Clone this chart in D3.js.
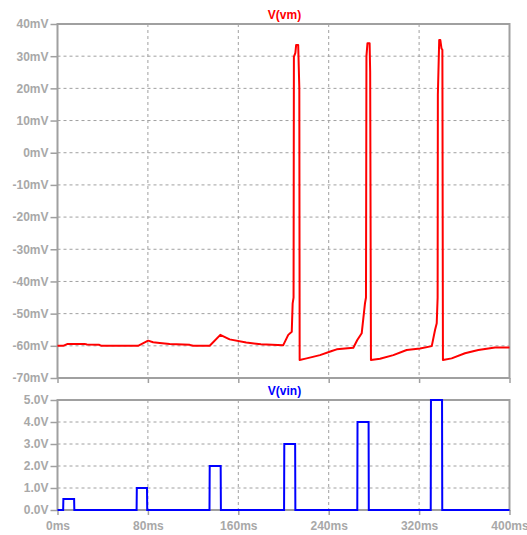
<!DOCTYPE html>
<html>
<head>
<meta charset="utf-8">
<script src="https://cdn.jsdelivr.net/npm/d3@7"></script>
<style>
  body { margin: 0; background: #fff; }
  text { font-family: "Liberation Sans", Arial, sans-serif; font-weight: bold; font-size: 12px; }
</style>
</head>
<body>
<div id="chart"></div>
<script>
// V(vm) membrane trace (ms, mV)
const vmTime = [0, 5, 9, 24, 26, 37, 39, 71.3, 80.2, 84.6, 90.5, 99.3, 117, 120,
  134.7, 144.1, 152.3, 167, 180, 199.8, 204.2, 207.3, 208.1, 208.9, 209.2, 210.5, 211.2, 213, 214, 214.3,
  220.5, 232.3, 242.7, 247.1, 261.8, 265.3, 269.2, 272.1, 273, 273.4, 274.3, 276.2, 276.7, 277.4,
  285.4, 297.2, 309, 320.8, 331.2, 334.1, 335.6, 336.4, 336.6, 337.8, 338.8, 339.8, 340.6, 341.1,
  348.8, 360.6, 372.4, 387.2, 400];
const vmValue = [-60, -60, -59.4, -59.4, -59.6, -59.7, -60, -60, -58.4, -58.9, -59.1, -59.4, -59.7, -60,
  -60, -56.6, -58.0, -59.0, -59.5, -59.8, -56.6, -55.6, -46.8, -45, 29.8, 31, 33.5, 33.5, 20, -64.4,
  -63.9, -62.9, -61.6, -61.1, -60.6, -58.2, -56.1, -46.8, -45, 30, 34, 34, 25, -64.4,
  -64.0, -62.9, -61.3, -60.8, -60.1, -55.1, -53.0, -45, 18, 35, 35, 32.4, 32, -64.4,
  -63.9, -62.3, -61.3, -60.5, -60.5];

// V(vin) stimulus pulses (ms, V)
const pulseStart = [5, 70, 134.5, 200.5, 265.3, 330.3];
const pulseEnd = [14.7, 79.2, 144.4, 210.3, 275.3, 340.3];
const pulseAmp = [0.5, 1, 2, 3, 4, 5];

const xTicks = [0, 80, 160, 240, 320, 400];
const vmTicks = [40, 30, 20, 10, 0, -10, -20, -30, -40, -50, -60, -70];
const vinTicks = [0, 1, 2, 3, 4, 5];

const width = 527, height = 535;
const left = 57.5, right = 509.5;
const gridColor = "#a0a0a0";
const labelColor = "#a8a8a8";

const svg = d3.select("#chart").append("svg")
  .attr("width", width)
  .attr("height", height);

const x = d3.scaleLinear().domain([0, 400]).range([left, right]);
const yVm = d3.scaleLinear().domain([-70, 40]).range([378, 24]);
const yVin = d3.scaleLinear().domain([0, 5]).range([510, 400]);

function panel(y, yTicks, fmt, title, color) {
  const [y0, y1] = y.range();
  const g = svg.append("g");

  // dashed grid
  g.selectAll(".hgrid").data(yTicks.filter(d => y(d) > y1 + 1 && y(d) < y0 - 1))
    .enter().append("line")
    .attr("x1", left).attr("x2", right)
    .attr("y1", d => y(d)).attr("y2", d => y(d))
    .attr("stroke", gridColor).attr("stroke-width", 1)
    .attr("stroke-dasharray", "3,3");
  g.selectAll(".vgrid").data(xTicks.slice(1, -1))
    .enter().append("line")
    .attr("x1", d => x(d)).attr("x2", d => x(d))
    .attr("y1", y1).attr("y2", y0)
    .attr("stroke", gridColor).attr("stroke-width", 1)
    .attr("stroke-dasharray", "3,3");

  // y axis ticks + labels
  const ay = g.append("g")
    .attr("transform", `translate(${left},0)`)
    .call(d3.axisLeft(y).tickValues(yTicks).tickFormat(fmt).tickSize(7).tickPadding(2));
  ay.select(".domain").remove();
  ay.selectAll("line").attr("stroke", gridColor).attr("stroke-width", 1.5);
  ay.selectAll("text").attr("fill", labelColor)
    .style("font-size", "12px").style("font-family", '"Liberation Sans", Arial, sans-serif');

  // x ticks
  const ax = g.append("g")
    .attr("transform", `translate(0,${y0})`)
    .call(d3.axisBottom(x).tickValues(xTicks).tickFormat(d => d + "ms").tickSize(5).tickPadding(6));
  ax.select(".domain").remove();
  ax.selectAll("line").attr("stroke", gridColor).attr("stroke-width", 1.5);
  ax.selectAll("text").attr("fill", labelColor)
    .style("font-size", "12px").style("font-family", '"Liberation Sans", Arial, sans-serif');

  // frame
  g.append("rect")
    .attr("x", left).attr("y", y1)
    .attr("width", right - left).attr("height", y0 - y1)
    .attr("fill", "none").attr("stroke", gridColor).attr("stroke-width", 2);

  // title
  svg.append("text")
    .attr("x", (left + right) / 2 + 1)
    .attr("y", y1 - 5)
    .attr("text-anchor", "middle")
    .attr("fill", color)
    .text(title);
  return { g, ax };
}

const vmPanel = panel(yVm, vmTicks, d => d + "mV", "V(vm)", "#ff0000");
vmPanel.ax.selectAll("text").remove();
panel(yVin, vinTicks, d => d3.format(".1f")(d) + "V", "V(vin)", "#0000ff");

// vm trace
const vmPts = vmTime.map((t, i) => [t, vmValue[i]]);
svg.append("path")
  .datum(vmPts)
  .attr("fill", "none")
  .attr("stroke", "#ff0000")
  .attr("stroke-width", 2)
  .attr("stroke-linejoin", "round")
  .attr("d", d3.line().x(d => x(d[0])).y(d => yVm(d[1])));

// vin step trace built from the pulse list
const vinPts = [[0, 0]];
pulseStart.forEach((s, i) => {
  vinPts.push([s, 0], [s + 0.2, pulseAmp[i]], [pulseEnd[i], pulseAmp[i]], [pulseEnd[i] + 0.2, 0]);
});
vinPts.push([400, 0]);
svg.append("path")
  .datum(vinPts)
  .attr("fill", "none")
  .attr("stroke", "#0000ff")
  .attr("stroke-width", 2)
  .attr("d", d3.line().x(d => x(d[0])).y(d => yVin(d[1])));
</script>
</body>
</html>
